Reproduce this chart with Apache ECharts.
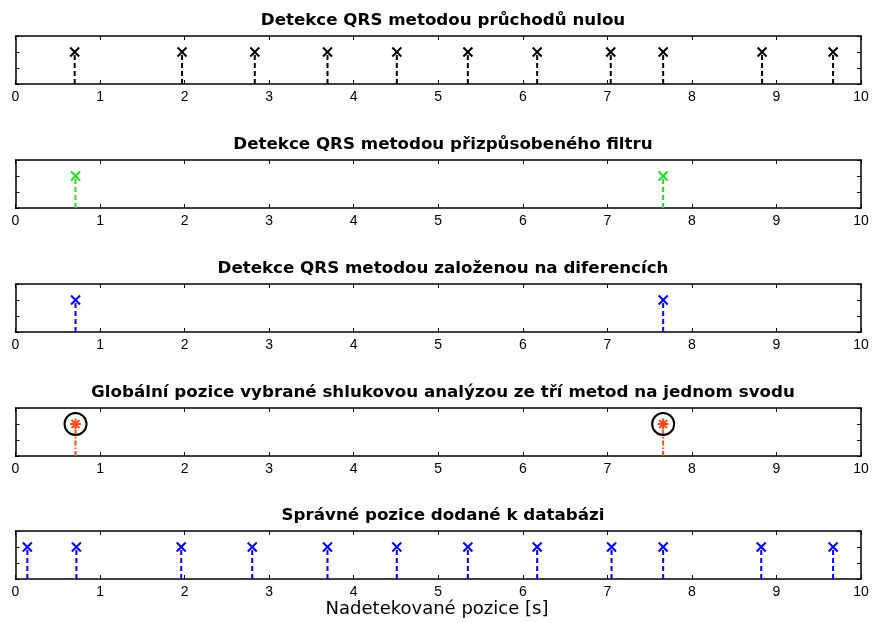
<!DOCTYPE html>
<html>
<head>
<meta charset="utf-8">
<script src="https://cdn.jsdelivr.net/npm/echarts@6/dist/echarts.min.js"></script>
<style>
  html, body { margin: 0; padding: 0; background: #fff; }
  #chart { width: 874px; height: 623px; }
</style>
</head>
<body>
<div id="chart"></div>
<script>
// QRS positions (seconds) found by each detector
const zeroCrossing = [0.70, 1.97, 2.83, 3.69, 4.51, 5.35, 6.17, 7.04, 7.66, 8.83, 9.67];
const matchedFilter = [0.71, 7.66];
const differences = [0.71, 7.66];
const clusterGlobal = [0.71, 7.66];
const annotated = [0.14, 0.72, 1.96, 2.80, 3.69, 4.51, 5.35, 6.17, 7.05, 7.66, 8.82, 9.67];

const stemLevel = 1;
const xTicks = [0, 1, 2, 3, 4, 5, 6, 7, 8, 9, 10];

const titles = [
  'Detekce QRS metodou průchodů nulou',
  'Detekce QRS metodou přizpůsobeného filtru',
  'Detekce QRS metodou založenou na diferencích',
  'Globální pozice vybrané shlukovou analýzou ze tří metod na jednom svodu',
  'Správné pozice dodané k databázi'
];
const xLabel = 'Nadetekované pozice [s]';

const panels = [
  { data: zeroCrossing, color: '#000000', marker: 'x', dash: [5, 3] },
  { data: matchedFilter, color: '#22e022', marker: 'x', dash: [5, 3] },
  { data: differences, color: '#0000ff', marker: 'x', dash: [5, 3] },
  { data: clusterGlobal, color: '#ff4a1a', marker: 'star', dash: [5, 2, 1.5, 2] },
  { data: annotated, color: '#0000ff', marker: 'x', dash: [5, 3] }
];

const FONT = 'DejaVu Sans, sans-serif';
const TICK_FONT = 'Liberation Sans, Arial, sans-serif';
const gridLeft = 15.5, gridRight = 13, gridH = 48;
const tops = [36, 160, 284, 408, 531];

const grids = [], xAxes = [], yAxes = [], series = [], titleCmp = [];
const axisLine = { show: true, onZero: false, lineStyle: { color: '#000', width: 1.5 } };
const tick = { show: true, inside: true, length: 4, lineStyle: { color: '#000', width: 1 } };

panels.forEach((p, i) => {
  grids.push({ left: gridLeft, right: gridRight, top: tops[i], height: gridH });
  // bottom and top x axes
  xAxes.push({
    type: 'value', gridIndex: i, position: 'bottom', min: xTicks[0], max: xTicks[xTicks.length - 1], interval: 1,
    axisLine, axisTick: tick, splitLine: { show: false },
    axisLabel: { show: true, color: '#000', fontSize: 14, fontFamily: TICK_FONT, margin: 6 }
  });
  xAxes.push({
    type: 'value', gridIndex: i, position: 'top', min: 0, max: 10, interval: 1,
    axisLine, axisTick: tick, splitLine: { show: false }, axisLabel: { show: false }
  });
  // left and right y axes
  yAxes.push({
    type: 'value', gridIndex: i, position: 'left', min: 0, max: 1.5, interval: 0.5,
    axisLine, axisTick: tick, splitLine: { show: false }, axisLabel: { show: false }
  });
  yAxes.push({
    type: 'value', gridIndex: i, position: 'right', min: 0, max: 1.5, interval: 0.5,
    axisLine, axisTick: tick, splitLine: { show: false }, axisLabel: { show: false }
  });

  titleCmp.push({
    text: titles[i], left: 438, top: tops[i] - 29, textAlign: 'center',
    textStyle: { fontFamily: FONT, fontSize: 16.7, fontWeight: 'bold', color: '#000' }
  });

  series.push({
    type: 'custom',
    xAxisIndex: i * 2,
    yAxisIndex: i * 2,
    data: p.data.map(v => [v, stemLevel]),
    clip: false,
    renderItem: (params, api) => {
      const base = api.coord([api.value(0), 0]);
      const tip = api.coord([api.value(0), api.value(1)]);
      const children = [{
        type: 'line',
        shape: { x1: tip[0], y1: base[1], x2: tip[0], y2: tip[1] },
        style: { stroke: p.color, lineWidth: 2, lineDash: p.dash }
      }];
      const cx = tip[0], cy = tip[1];
      if (p.marker === 'x') {
        const s = 4.5;
        children.push({ type: 'line', shape: { x1: cx - s, y1: cy - s, x2: cx + s, y2: cy + s }, style: { stroke: p.color, lineWidth: 2 } });
        children.push({ type: 'line', shape: { x1: cx - s, y1: cy + s, x2: cx + s, y2: cy - s }, style: { stroke: p.color, lineWidth: 2 } });
      } else {
        const s = 5.5;
        const d = s * 0.72;
        children.push({ type: 'line', shape: { x1: cx - s, y1: cy, x2: cx + s, y2: cy }, style: { stroke: p.color, lineWidth: 2 } });
        children.push({ type: 'line', shape: { x1: cx, y1: cy - s, x2: cx, y2: cy + s }, style: { stroke: p.color, lineWidth: 2 } });
        children.push({ type: 'line', shape: { x1: cx - d, y1: cy - d, x2: cx + d, y2: cy + d }, style: { stroke: p.color, lineWidth: 2 } });
        children.push({ type: 'line', shape: { x1: cx - d, y1: cy + d, x2: cx + d, y2: cy - d }, style: { stroke: p.color, lineWidth: 2 } });
        children.push({ type: 'circle', shape: { cx: cx, cy: cy, r: 11 }, style: { stroke: '#000', fill: 'none', lineWidth: 2 } });
      }
      return { type: 'group', children };
    }
  });
});

const chart = echarts.init(document.getElementById('chart'), null, { renderer: 'canvas' });
chart.setOption({
  animation: false,
  backgroundColor: '#fff',
  title: titleCmp,
  grid: grids,
  xAxis: xAxes,
  yAxis: yAxes,
  series,
  graphic: [{
    type: 'text', left: 'center', top: 600,
    style: { text: xLabel, font: '18px ' + FONT, fill: '#000' }
  }]
});
</script>
</body>
</html>
